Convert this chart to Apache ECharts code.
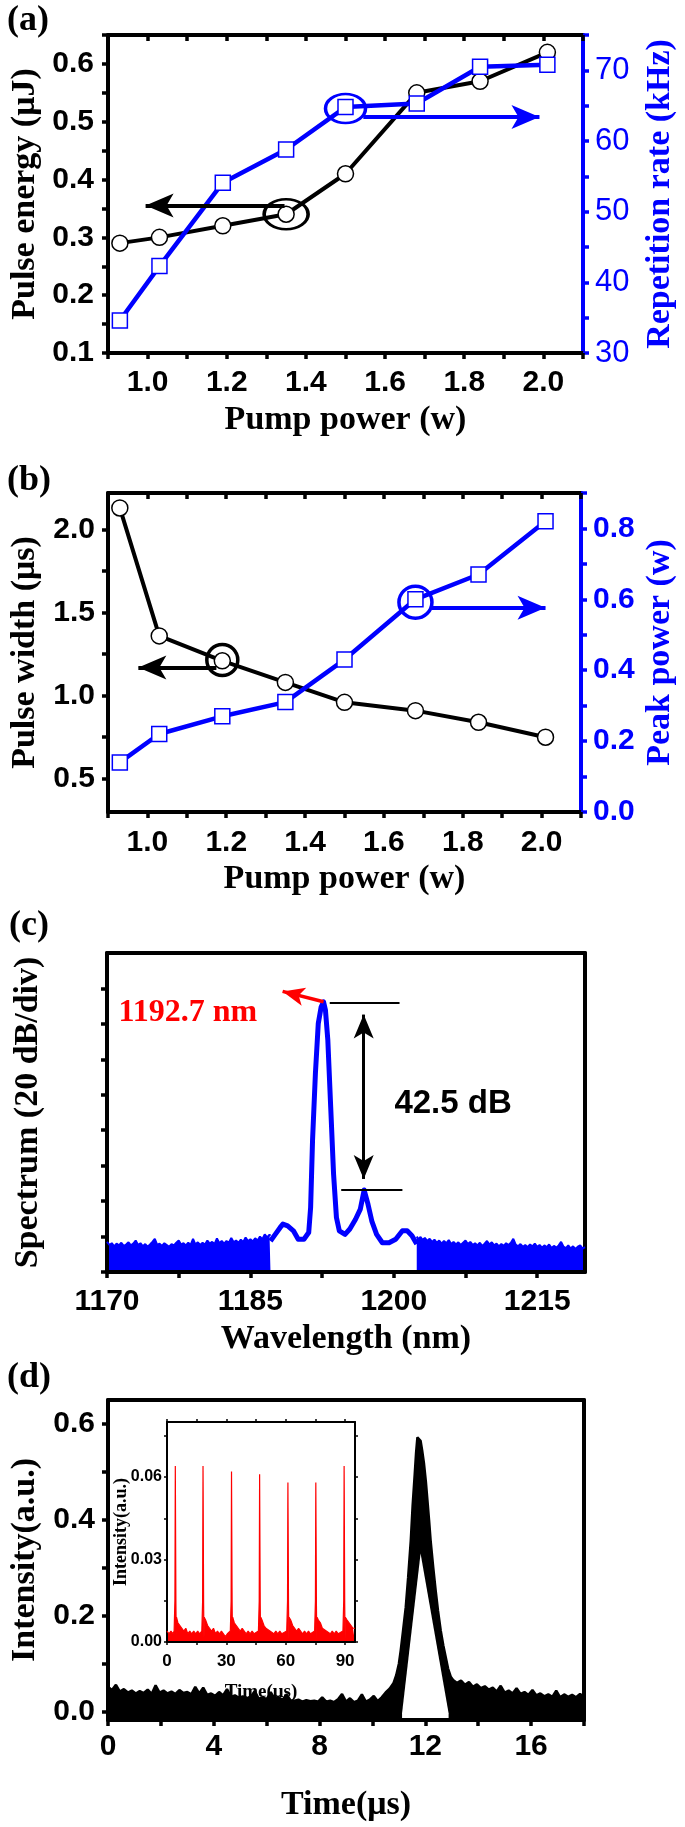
<!DOCTYPE html>
<html><head><meta charset="utf-8">
<script src="https://cdn.jsdelivr.net/npm/echarts@6/dist/echarts.min.js"></script>
<style>html,body{margin:0;padding:0;background:#fff}#c{width:685px;height:1827px}</style>
</head><body><div id="c"></div>
<script>
// ---------------- data ----------------
const pumpPower   = [0.93, 1.03, 1.19, 1.35, 1.50, 1.68, 1.84, 2.01];
const pulseEnergy = [0.29, 0.30, 0.32, 0.34, 0.41, 0.55, 0.57, 0.62];   // uJ
const repRate     = [34.6, 42.3, 54.1, 58.8, 64.8, 65.3, 70.5, 70.8];   // kHz
const pulseWidth  = [2.13, 1.36, 1.21, 1.08, 0.96, 0.91, 0.84, 0.75];   // us
const peakPower   = [0.14, 0.22, 0.27, 0.31, 0.43, 0.60, 0.67, 0.82];   // W

const pumpLabels   = [1.0, 1.2, 1.4, 1.6, 1.8, 2.0];
const pumpTicks    = [0.9, 1.0, 1.1, 1.2, 1.3, 1.4, 1.5, 1.6, 1.7, 1.8, 1.9, 2.0, 2.1];
const energyLabels = [0.1, 0.2, 0.3, 0.4, 0.5, 0.6];
const energyTicks  = [0.1, 0.15, 0.2, 0.25, 0.3, 0.35, 0.4, 0.45, 0.5, 0.55, 0.6, 0.65];
const repLabels    = [30, 40, 50, 60, 70];
const repTicks     = [30, 35, 40, 45, 50, 55, 60, 65, 70, 75];
const widthLabels  = [0.5, 1.0, 1.5, 2.0];
const widthTicks   = [0.5, 0.75, 1.0, 1.25, 1.5, 1.75, 2.0];
const peakLabels   = [0.0, 0.2, 0.4, 0.6, 0.8];
const peakTicks    = [0.0, 0.1, 0.2, 0.3, 0.4, 0.5, 0.6, 0.7, 0.8, 0.9];

// spectrum (nm, dB)
const specNoiseLeft = [[1170,-65.2],[1170.25,-65.9],[1170.5,-65.5],[1170.75,-66.2],[1171,-65.6],[1171.25,-66.0],[1171.5,-65.4],[1171.75,-66.1],[1172,-65.8],[1172.25,-65.3],[1172.5,-66.0],[1172.75,-65.6],[1173,-64.9],[1173.25,-65.9],[1173.5,-65.5],[1173.75,-66.2],[1174,-65.7],[1174.25,-66.3],[1174.5,-65.8],[1174.75,-65.2],[1175,-64.5],[1175.25,-65.9],[1175.5,-65.6],[1175.75,-66.1],[1176,-65.5],[1176.25,-65.9],[1176.5,-66.3],[1176.75,-65.7],[1177,-66.0],[1177.25,-65.4],[1177.5,-64.9],[1177.75,-65.8],[1178,-65.5],[1178.25,-66.0],[1178.5,-65.4],[1178.75,-65.9],[1179,-64.5],[1179.25,-65.8],[1179.5,-65.3],[1179.75,-65.9],[1180,-65.4],[1180.25,-65.8],[1180.5,-64.9],[1180.75,-65.6],[1181,-65.2],[1181.25,-65.7],[1181.5,-64.4],[1181.75,-65.5],[1182,-65.0],[1182.25,-65.6],[1182.5,-65.0],[1182.75,-65.4],[1183,-64.3],[1183.25,-65.3],[1183.5,-64.9],[1183.75,-65.4],[1184,-64.7],[1184.25,-65.2],[1184.5,-64.2],[1184.75,-65.0],[1185,-64.6],[1185.25,-65.1],[1185.5,-64.4],[1185.75,-64.9],[1186,-64.0],[1186.25,-64.6],[1186.5,-63.5],[1186.75,-64.2],[1187,-63.6],[1187.1,-63.8]];
const specCenter = [[1187.1,-65.0],[1187.6,-63.5],[1188.1,-62.0],[1188.4,-61.2],[1188.9,-61.6],[1189.5,-62.7],[1190.0,-64.6],[1190.6,-64.6],[1191.1,-63.1],[1191.3,-57.4],[1191.5,-42.3],[1191.8,-27.2],[1192.1,-15.9],[1192.4,-12.2],[1192.65,-11.0],[1192.85,-12.9],[1193.1,-19.7],[1193.4,-34.8],[1193.7,-49.9],[1194.0,-59.7],[1194.3,-62.7],[1194.9,-63.5],[1195.4,-62.3],[1196.0,-60.1],[1196.5,-57.8],[1196.9,-53.5],[1197.3,-56.7],[1197.7,-60.5],[1198.2,-63.5],[1198.8,-65.4],[1199.5,-65.4],[1200.2,-64.6],[1200.9,-62.7],[1201.4,-62.7],[1201.9,-63.8],[1202.4,-65.7]];
const specNoiseRight = [[1202.4,-64.0],[1202.6,-64.6],[1202.8,-64.1],[1203,-64.8],[1203.25,-64.3],[1203.5,-65.0],[1203.75,-64.5],[1204,-65.2],[1204.25,-64.7],[1204.5,-65.4],[1204.75,-64.9],[1205,-65.6],[1205.25,-65.0],[1205.5,-65.5],[1205.75,-64.8],[1206,-65.7],[1206.25,-65.2],[1206.5,-65.8],[1206.75,-65.3],[1207,-65.9],[1207.25,-65.4],[1207.5,-64.9],[1207.75,-65.7],[1208,-65.2],[1208.25,-65.9],[1208.5,-65.5],[1208.75,-66.0],[1209,-65.4],[1209.25,-66.1],[1209.5,-65.6],[1209.75,-65.0],[1210,-65.8],[1210.25,-65.3],[1210.5,-66.0],[1210.75,-65.6],[1211,-66.2],[1211.25,-65.7],[1211.5,-66.1],[1211.75,-65.5],[1212,-65.9],[1212.25,-65.4],[1212.5,-64.5],[1212.75,-65.8],[1213,-66.2],[1213.25,-65.7],[1213.5,-66.3],[1213.75,-65.9],[1214,-66.4],[1214.25,-65.8],[1214.5,-66.2],[1214.75,-65.6],[1215,-66.3],[1215.25,-65.9],[1215.5,-66.5],[1215.75,-66.0],[1216,-66.4],[1216.25,-65.8],[1216.5,-66.6],[1216.75,-66.1],[1217,-66.5],[1217.25,-66.0],[1217.5,-65.2],[1217.75,-66.3],[1218,-66.6],[1218.25,-66.0],[1218.5,-66.7],[1218.75,-66.2],[1219,-66.8],[1219.25,-66.3],[1219.5,-66.0],[1219.75,-66.7],[1220,-66.4]];
const wlLabels = [1170, 1185, 1200, 1215];
const wlTicks  = [1170, 1177.5, 1185, 1192.5, 1200, 1207.5, 1215];
const dbTicks  = [-72, -64, -56, -48, -40, -32, -24, -16, -8];

// single pulse (us, a.u.): upper envelope of the noisy trace, and the inner gap under the pulse
const pulseUpper = [[0,0.052],[0.15,0.045],[0.3,0.056],[0.45,0.042],[0.6,0.047],[0.75,0.04],[0.9,0.044],[1.05,0.038],[1.2,0.043],[1.35,0.039],[1.5,0.046],[1.65,0.037],[1.8,0.055],[1.95,0.04],[2.1,0.044],[2.25,0.038],[2.4,0.042],[2.55,0.037],[2.7,0.045],[2.85,0.039],[3.0,0.041],[3.15,0.036],[3.3,0.052],[3.45,0.038],[3.6,0.05],[3.75,0.035],[3.9,0.038],[4.05,0.033],[4.2,0.041],[4.35,0.034],[4.5,0.047],[4.65,0.031],[4.8,0.034],[4.95,0.029],[5.1,0.032],[5.25,0.028],[5.4,0.031],[5.55,0.043],[5.7,0.027],[5.85,0.03],[6.0,0.026],[6.15,0.041],[6.3,0.027],[6.45,0.03],[6.6,0.025],[6.75,0.036],[6.9,0.024],[7.05,0.023],[7.2,0.025],[7.35,0.021],[7.5,0.024],[7.65,0.022],[7.8,0.023],[7.95,0.021],[8.1,0.03],[8.25,0.021],[8.4,0.023],[8.55,0.02],[8.7,0.026],[8.85,0.037],[9.0,0.021],[9.15,0.028],[9.3,0.02],[9.45,0.023],[9.6,0.036],[9.75,0.021],[9.9,0.025],[10.05,0.033],[10.2,0.022],[10.35,0.03],[10.5,0.04],[10.65,0.048],[10.8,0.06],[10.9,0.076],[11.0,0.1],[11.07,0.128],[11.16,0.17],[11.26,0.218],[11.35,0.28],[11.45,0.357],[11.52,0.43],[11.6,0.496],[11.65,0.54],[11.7,0.572],[11.76,0.575],[11.82,0.565],[11.88,0.545],[11.95,0.517],[12.02,0.48],[12.08,0.44],[12.14,0.4],[12.2,0.357],[12.3,0.3],[12.39,0.253],[12.48,0.21],[12.58,0.17],[12.68,0.138],[12.77,0.114],[12.86,0.09],[12.96,0.073],[13.05,0.066],[13.2,0.06],[13.35,0.065],[13.5,0.056],[13.65,0.062],[13.8,0.052],[13.95,0.057],[14.1,0.049],[14.25,0.053],[14.4,0.046],[14.55,0.05],[14.7,0.042],[14.85,0.054],[15.0,0.04],[15.15,0.044],[15.3,0.038],[15.45,0.049],[15.6,0.037],[15.75,0.041],[15.9,0.035],[16.05,0.045],[16.2,0.034],[16.35,0.038],[16.5,0.032],[16.65,0.036],[16.8,0.031],[16.95,0.044],[17.1,0.03],[17.25,0.036],[17.4,0.031],[17.55,0.035],[17.7,0.03],[17.85,0.037],[18.0,0.031]];
const pulseGap = [[11.12,-0.003],[11.82,0.33],[12.88,-0.003]];
const timeLabels = [0, 4, 8, 12, 16];
const timeTicks  = [0, 2, 4, 6, 8, 10, 12, 14, 16, 18];
const intLabels  = [0.0, 0.2, 0.4, 0.6];
const intTicks   = [0.0, 0.1, 0.2, 0.3, 0.4, 0.5, 0.6];

// inset pulse train (us, a.u.)
const trainTrace = [[0,0.004],[1,0.003],[2,0.004],[3,0.003],[3.6,0.004],[4.0,0.015],[4.2,0.064],[4.5,0.014],[4.7,0.001],[4.8,0.009],[5.5,0.007],[6.5,0.006],[7.5,0.005],[8.5,0.004],[9.5,0.005],[10.5,0.003],[11.5,0.004],[12.5,0.003],[13.5,0.004],[14.5,0.003],[15.5,0.004],[16.5,0.003],[17.6,0.004],[18.0,0.015],[18.2,0.064],[18.5,0.014],[18.7,0.001],[18.8,0.009],[19.5,0.008],[20.5,0.006],[21.5,0.005],[22.5,0.004],[23.5,0.005],[24.5,0.003],[25.5,0.004],[26.5,0.003],[27.5,0.004],[28.5,0.003],[29.5,0.002],[30.5,0.003],[32.0,0.004],[32.4,0.015],[32.6,0.062],[32.9,0.014],[33.1,0.001],[33.2,0.009],[34,0.007],[35,0.006],[36,0.005],[37,0.004],[38,0.005],[39,0.004],[40,0.003],[41,0.004],[42,0.003],[43,0.004],[44,0.003],[45,0.003],[46.2,0.004],[46.6,0.015],[46.8,0.061],[47.1,0.014],[47.3,0.001],[47.4,0.009],[48,0.008],[49,0.006],[50,0.005],[51,0.005],[52,0.004],[53,0.004],[54,0.003],[55,0.004],[56,0.003],[57,0.004],[58,0.003],[59,0.003],[60.5,0.004],[60.9,0.015],[61.1,0.058],[61.4,0.014],[61.6,0.001],[61.7,0.009],[62.5,0.008],[63.5,0.006],[64.5,0.005],[65.5,0.004],[66.5,0.005],[67.5,0.004],[68.5,0.003],[69.5,0.004],[70.5,0.003],[71.5,0.004],[72.5,0.003],[73.5,0.003],[74.6,0.004],[75.0,0.015],[75.2,0.058],[75.5,0.014],[75.7,0.001],[75.8,0.009],[76.5,0.008],[77.5,0.007],[78.5,0.005],[79.5,0.005],[80.5,0.004],[81.5,0.004],[82.5,0.003],[83.5,0.004],[84.5,0.003],[85.5,0.004],[86.5,0.003],[87.5,0.003],[88.9,0.004],[89.3,0.015],[89.5,0.064],[89.8,0.014],[90.0,0.001],[90.1,0.009],[91,0.008],[92,0.007],[93,0.006],[94,0.005],[95,0.005]];
const insetTimeLabels = [0, 30, 60, 90];
const insetTimeTicks  = [0, 15, 30, 45, 60, 75, 90];
const insetIntLabels  = [0.00, 0.03, 0.06];
const insetIntTicks   = [0.000, 0.015, 0.030, 0.045, 0.060, 0.075];

// annotation anchors (data coordinates)
const annA = { ellipseK:[1.35,0.34], arrowK:[[1.346,0.355],[0.995,0.355]], ellipseB:[1.50,64.6], arrowB:[[1.545,63.4],[1.99,63.4]] };
const annB = { circleK:[1.19,1.215], arrowK:[[1.175,1.17],[0.977,1.17]], circleB:[1.68,0.592], arrowB:[[1.72,0.576],[2.01,0.576]] };
const annC = { peak:[1192.65,-11.0], redArrowEnd:[1188.37,-8.67], topBar:[[1193.3,-11.3],[1200.6,-11.3]], lowBar:[[1194.5,-53.4],[1200.9,-53.4]], dArrow:[[1196.85,-13.9],[1196.85,-51.0]], wlText:[1178.45,-13.4], dbText:[1206.2,-34.0] };

// ---------------- styling ----------------
const BLK='#000000', BLUE='#0000ff', RED='#ff0000';
const SANS="'Liberation Sans', Arial, sans-serif";
const SERIF="'Liberation Serif', 'Times New Roman', serif";
const NARROW="'Liberation Sans Narrow', 'Liberation Sans', Arial, sans-serif";

function ax(o){
  const c = o.color || BLK;
  return {
    gridIndex:o.g, type:'value', position:o.pos, min:o.min, max:o.max, z:3,
    axisLine:{show:true,onZero:false,lineStyle:{color:c,width:o.lw||4}},
    axisTick:o.ticks?{show:true,inside:!!o.tin,length:o.tlen||6,customValues:o.ticks,lineStyle:{color:c,width:o.tw||3.5}}:{show:false},
    axisLabel:o.labels?{show:true,customValues:o.labels,formatter:o.fmt,margin:o.margin,color:o.lcolor||c,
      fontFamily:o.lfont||SANS,fontWeight:o.lweight||'bold',fontSize:o.lsize||30}:{show:false},
    splitLine:{show:false}, minorTick:{show:false},
    name:o.name||'', nameLocation:'middle', nameGap:o.gap||0, nameRotate:o.nrot, nameMoveOverlap:false,
    nameTextStyle:{color:o.ncolor||c,fontFamily:SERIF,fontWeight:'bold',fontSize:o.nsize||34}
  };
}
const f1 = v => Number(v).toFixed(1);
const f2 = v => Number(v).toFixed(2);
const f0 = v => String(Math.round(v));
const zip = (a,b) => a.map((x,i)=>[x,b[i]]);

const grids = [
  {left:107, top:35,   width:479, height:318},
  {left:107, top:493,  width:479, height:319},
  {left:107, top:953,  width:478, height:319},
  {left:107, top:1400, width:477, height:320},
  {left:167, top:1422, width:188, height:220}
];

const xAxis = [
  ax({g:0,pos:'bottom',min:0.9,max:2.1,ticks:pumpTicks,labels:pumpLabels,fmt:f1,margin:15,name:'Pump power (w)',gap:50}),
  ax({g:0,pos:'top',min:0.9,max:2.1,ticks:pumpTicks,tin:true}),
  ax({g:1,pos:'bottom',min:0.9,max:2.1,ticks:pumpTicks,labels:pumpLabels,fmt:f1,margin:16,name:'Pump power (w)',gap:50}),
  ax({g:1,pos:'top',min:0.9,max:2.1,ticks:pumpTicks,tin:true}),
  ax({g:2,pos:'bottom',min:1170,max:1220,ticks:wlTicks,labels:wlLabels,fmt:f0,margin:15,name:'Wavelength (nm)',gap:50}),
  ax({g:2,pos:'top',min:1170,max:1220}),
  ax({g:3,pos:'bottom',min:0,max:18,ticks:timeTicks,labels:timeLabels,fmt:f0,margin:12,name:'Time(μs)',gap:68}),
  ax({g:3,pos:'top',min:0,max:18}),
  ax({g:4,pos:'bottom',min:0,max:95,lw:2,tw:1.5,tlen:3,ticks:insetTimeTicks,labels:insetTimeLabels,fmt:f0,margin:11,lfont:NARROW,lsize:17,name:'Time(μs)',gap:41,nsize:19}),
  ax({g:4,pos:'top',min:0,max:95,lw:2,tw:1.5,tlen:3,ticks:insetTimeTicks})
];
const yAxis = [
  ax({g:0,pos:'left',min:0.1,max:0.65,ticks:energyTicks,labels:energyLabels,fmt:f1,margin:14,name:'Pulse energy (μJ)',gap:66,nrot:90}),
  ax({g:0,pos:'right',min:30,max:75,color:BLUE,ticks:repTicks,labels:repLabels,fmt:f0,margin:12,lweight:'normal',lsize:31,name:'Repetition rate (kHz)',gap:60,nrot:90}),
  ax({g:1,pos:'left',min:0.3,max:2.22,ticks:widthTicks,labels:widthLabels,fmt:f1,margin:13,name:'Pulse width (μs)',gap:66,nrot:90}),
  ax({g:1,pos:'right',min:0,max:0.9,color:BLUE,ticks:peakTicks,labels:peakLabels,fmt:f1,margin:12,name:'Peak power (w)',gap:62,nrot:90}),
  ax({g:2,pos:'left',min:-72,max:0,ticks:dbTicks,name:'Spectrum (20 dB/div)',gap:62,nrot:90}),
  ax({g:2,pos:'right',min:-72,max:0}),
  ax({g:3,pos:'left',min:-0.0173,max:0.65,ticks:intTicks,labels:intLabels,fmt:f1,margin:13,name:'Intensity(a.u.)',gap:66,nrot:90}),
  ax({g:3,pos:'right',min:-0.0173,max:0.65}),
  ax({g:4,pos:'left',min:0,max:0.08,lw:2,tw:1.5,tlen:3,ticks:insetIntTicks,labels:insetIntLabels,fmt:f2,margin:5,lfont:NARROW,lsize:16,name:'Intensity(a.u.)',gap:37,nsize:18,nrot:90}),
  ax({g:4,pos:'right',min:0,max:0.08,lw:2,tw:1.5,tlen:3,ticks:insetIntTicks})
];

function arrowLine(p0, p1, color, w, size, both){
  return [
    {coord:p0, symbol: both?'arrow':'none', symbolSize: size, lineStyle:{color:color,width:w,type:'solid'}, itemStyle:{color:color}},
    {coord:p1, symbol:'arrow', symbolSize: size, itemStyle:{color:color}}
  ];
}
function plainLine(p0, p1, color, w){
  return [
    {coord:p0, symbol:'none', symbolSize:1, lineStyle:{color:color,width:w,type:'solid'}},
    {coord:p1, symbol:'none', symbolSize:1}
  ];
}
function ring(p, size, color, w){
  return {coord:p, symbol:'circle', symbolSize:size, itemStyle:{color:'rgba(0,0,0,0)',borderColor:color,borderWidth:w}, label:{show:false}};
}
function mlBase(color, data){
  return {silent:true, animation:false, label:{show:false}, emphasis:{disabled:true},
          lineStyle:{color:color,type:'solid'}, itemStyle:{color:color}, data:data};
}

const series = [
  // (a)
  {type:'line', xAxisIndex:0, yAxisIndex:0, data:zip(pumpPower,pulseEnergy), symbol:'circle', symbolSize:16,
   lineStyle:{color:BLK,width:4}, itemStyle:{color:'#fff',borderColor:BLK,borderWidth:1.5}, z:2,
   markPoint:{silent:true, animation:false, data:[ring(annA.ellipseK,[44,30],BLK,3)]},
   markLine: mlBase(BLK,[arrowLine(annA.arrowK[0],annA.arrowK[1],BLK,4,[18,28])])},
  {type:'line', xAxisIndex:0, yAxisIndex:1, data:zip(pumpPower,repRate), symbol:'rect', symbolSize:15,
   lineStyle:{color:BLUE,width:4.5}, itemStyle:{color:'#fff',borderColor:BLUE,borderWidth:1.5}, z:2,
   markPoint:{silent:true, animation:false, data:[ring(annA.ellipseB,[40,29],BLUE,3)]},
   markLine: mlBase(BLUE,[arrowLine(annA.arrowB[0],annA.arrowB[1],BLUE,4,[18,28])])},
  // (b)
  {type:'line', xAxisIndex:2, yAxisIndex:2, data:zip(pumpPower,pulseWidth), symbol:'circle', symbolSize:16,
   lineStyle:{color:BLK,width:4}, itemStyle:{color:'#fff',borderColor:BLK,borderWidth:1.5}, z:2,
   markPoint:{silent:true, animation:false, data:[ring(annB.circleK,[31,31],BLK,3.5)]},
   markLine: mlBase(BLK,[arrowLine(annB.arrowK[0],annB.arrowK[1],BLK,4,[18,28])])},
  {type:'line', xAxisIndex:2, yAxisIndex:3, data:zip(pumpPower,peakPower), symbol:'rect', symbolSize:15,
   lineStyle:{color:BLUE,width:4.5}, itemStyle:{color:'#fff',borderColor:BLUE,borderWidth:1.5}, z:2,
   markPoint:{silent:true, animation:false, data:[ring(annB.circleB,[33,32],BLUE,3.5)]},
   markLine: mlBase(BLUE,[arrowLine(annB.arrowB[0],annB.arrowB[1],BLUE,4,[18,28])])},
  // (c)
  {type:'line', xAxisIndex:4, yAxisIndex:4, data:specNoiseLeft, symbol:'none', lineStyle:{color:BLUE,width:2},
   areaStyle:{color:BLUE,opacity:1,origin:'start'}},
  {type:'line', xAxisIndex:4, yAxisIndex:4, data:specNoiseRight, symbol:'none', lineStyle:{color:BLUE,width:2},
   areaStyle:{color:BLUE,opacity:1,origin:'start'}},
  {type:'line', xAxisIndex:4, yAxisIndex:4, data:specCenter, symbol:'none', lineStyle:{color:BLUE,width:5,join:'round'},
   markLine: mlBase(BLK,[
     arrowLine(annC.peak, annC.redArrowEnd, RED, 3.5, [14,22]),
     plainLine(annC.topBar[0], annC.topBar[1], BLK, 2),
     plainLine(annC.lowBar[0], annC.lowBar[1], BLK, 2),
     arrowLine(annC.dArrow[0], annC.dArrow[1], BLK, 3, [15,24], true)
   ]),
   markPoint:{silent:true, animation:false, data:[
     {coord:annC.wlText, symbol:'circle', symbolSize:1, itemStyle:{color:'rgba(0,0,0,0)'},
      label:{show:true,position:'inside',formatter:'1192.7 nm',color:RED,fontFamily:SERIF,fontWeight:'bold',fontSize:32}},
     {coord:annC.dbText, symbol:'circle', symbolSize:1, itemStyle:{color:'rgba(0,0,0,0)'},
      label:{show:true,position:'inside',formatter:'42.5 dB',color:BLK,fontFamily:SANS,fontWeight:'bold',fontSize:33}}
   ]}},
  // (d)
  {type:'line', xAxisIndex:6, yAxisIndex:6, data:pulseUpper, symbol:'none', lineStyle:{color:BLK,width:2.5},
   areaStyle:{color:BLK,opacity:1,origin:'start'}},
  {type:'line', xAxisIndex:6, yAxisIndex:6, data:pulseGap, symbol:'none', lineStyle:{color:'#fff',width:0},
   areaStyle:{color:'#fff',opacity:1,origin:'start'}},
  // inset
  {type:'line', xAxisIndex:8, yAxisIndex:8, data:trainTrace, symbol:'none', lineStyle:{color:RED,width:1.2},
   areaStyle:{color:RED,opacity:1,origin:'start'}}
];

const panelLabel = (t, left, top) => ({type:'text', left:left, top:top, z:10,
  style:{text:t, fill:BLK, font:"bold 36px 'Liberation Serif', 'Times New Roman', serif"}});

const option = {
  animation:false,
  backgroundColor:'#ffffff',
  grid: grids,
  xAxis: xAxis,
  yAxis: yAxis,
  series: series,
  graphic: [
    panelLabel('(a)', 7, 3),
    panelLabel('(b)', 7, 463),
    panelLabel('(c)', 9, 908),
    panelLabel('(d)', 7, 1360)
  ]
};
const chart = echarts.init(document.getElementById('c'), null, {renderer:'canvas', width:685, height:1827});
chart.setOption(option);
</script>
</body></html>
